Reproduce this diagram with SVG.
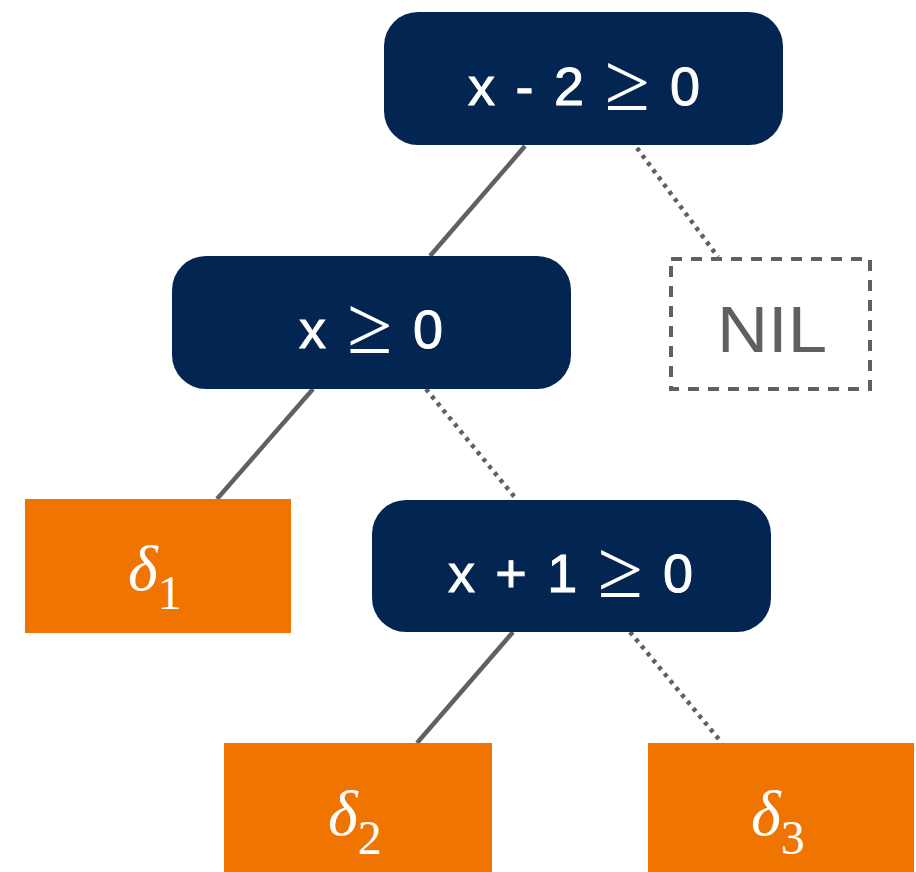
<svg xmlns="http://www.w3.org/2000/svg" width="916" height="872" viewBox="0 0 916 872">
<style>
.cond rect{fill:#022552}
.cond text{fill:#ffffff;stroke:#ffffff;stroke-width:0.9;font-family:"Liberation Sans",Arial,sans-serif;font-size:54px;text-anchor:middle}
.leaf rect{fill:#f07400}
.leaf text{fill:#ffffff;font-family:"Liberation Serif","Times New Roman",serif}
.d{font-style:italic;font-size:64px}
.s{font-size:48px}
.solid{stroke:#606060;stroke-width:4.5;fill:none}
.dot{stroke:#606060;stroke-width:4.5;stroke-dasharray:4 5;fill:none}
.cond text tspan.ge{font-family:"Liberation Serif",serif;font-size:82px;stroke-width:0}
</style>
<rect width="916" height="872" fill="#ffffff"/>
<g id="connectors">
<line class="solid" x1="525" y1="146" x2="430" y2="256"/>
<line class="dot" x1="637" y1="148" x2="718" y2="257"/>
<line class="solid" x1="313" y1="389" x2="217" y2="499"/>
<line class="dot" x1="426" y1="389" x2="517" y2="500"/>
<line class="solid" x1="513" y1="632" x2="417" y2="743"/>
<line class="dot" x1="630" y1="632" x2="722" y2="743"/>
</g>
<g id="n1" class="cond">
<rect x="384" y="12" width="399" height="133" rx="34"/>
<text x="584" y="105" textLength="232" lengthAdjust="spacing">x - 2 <tspan class="ge" dy="5">≥</tspan><tspan dy="-5"> 0</tspan></text>
</g>
<g id="nil">
<rect x="671" y="259" width="199" height="130" fill="none" stroke="#606060" stroke-width="4" stroke-dasharray="11 9"/>
<text x="772" y="352" text-anchor="middle" fill="#5f5f5f" font-family="Liberation Sans,Arial,sans-serif" font-size="65" textLength="110" lengthAdjust="spacingAndGlyphs">NIL</text>
</g>
<g id="n2" class="cond">
<rect x="172" y="256" width="399" height="133" rx="34"/>
<text x="371" y="348" textLength="144" lengthAdjust="spacing">x <tspan class="ge" dy="5">≥</tspan><tspan dy="-5"> 0</tspan></text>
</g>
<g id="leaf1" class="leaf">
<rect x="25" y="499" width="266" height="134"/>
<text x="128" y="590"><tspan class="d">δ</tspan><tspan class="s" dy="19">1</tspan></text>
</g>
<g id="n3" class="cond">
<rect x="372" y="500" width="399" height="132" rx="34"/>
<text x="570.5" y="592" textLength="245" lengthAdjust="spacing">x + 1 <tspan class="ge" dy="5">≥</tspan><tspan dy="-5"> 0</tspan></text>
</g>
<g id="leaf2" class="leaf">
<rect x="224" y="743" width="268" height="134"/>
<text x="328" y="835"><tspan class="d">δ</tspan><tspan class="s" dy="19">2</tspan></text>
</g>
<g id="leaf3" class="leaf">
<rect x="648" y="743" width="266" height="134"/>
<text x="751" y="835"><tspan class="d">δ</tspan><tspan class="s" dy="19">3</tspan></text>
</g>
</svg>
